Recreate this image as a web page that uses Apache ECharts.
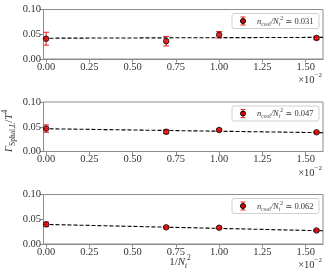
<!DOCTYPE html>
<html><head><meta charset="utf-8">
<script src="https://cdn.jsdelivr.net/npm/echarts@6/dist/echarts.min.js"></script>
<style>html,body{margin:0;padding:0;background:#fff}#c{width:328px;height:279px}</style>
</head><body><div id="c"></div>
<script>
// x values in units of 1e-2 (1/N_t^2)
const xVals = [0, 0.694, 1.0, 1.5625];
const xTicks = [0, 0.25, 0.5, 0.75, 1.0, 1.25, 1.5];
const xTickLabels = ['0.00','0.25','0.50','0.75','1.00','1.25','1.50'];
const yTicks = [0, 0.05, 0.10];
const legendLabels = ['0.031', '0.047', '0.062'];

const mean1 = [0.041, 0.036, 0.049, 0.0425];
const err1  = [0.013, 0.0095, 0.0065, 0.0035];
const mean2 = [0.0463, 0.040, 0.0435, 0.0388];
const err2  = [0.0075, 0.004, 0.002, 0.002];
const mean3 = [0.0397, 0.0336, 0.0329, 0.0274];
const err3  = [0.0045, 0.002, 0.002, 0.002];

const fitX = [-0.015, 1.6];
const fit1 = [0.042, 0.0437];
const fit2 = [0.046, 0.038];
const fit3 = [0.0397, 0.0267];

const means = [mean1, mean2, mean3];
const errs = [err1, err2, err3];
const fits = [fit1, fit2, fit3];

const FAM = '"Liberation Serif", "DejaVu Serif", serif';
const f = (sz, it) => (it ? 'italic ' : '') + sz + 'px ' + FAM;
const tops = [9.5, 102, 194.5];
const H = 49.5;
const axisCol = '#8c8c8c';
const txtCol = '#333';

const grids = [], xAxes = [], yAxes = [], series = [], graphics = [];
for (let i = 0; i < 3; i++) {
  grids.push({left: 43.5, right: 5, top: tops[i], height: H, show: true,
    borderColor: axisCol, borderWidth: 1, backgroundColor: 'transparent', containLabel: false});
  xAxes.push({type: 'value', gridIndex: i, min: -0.015, max: 1.6,
    axisLine: {show: true, onZero: false, lineStyle: {color: axisCol, width: 1}},
    axisTick: {show: true, length: 3.5, lineStyle: {color: axisCol}, customValues: xTicks},
    axisLabel: {customValues: xTicks, fontFamily: FAM, fontSize: 10.5, color: txtCol, margin: 2.5,
      formatter: v => xTickLabels[xTicks.indexOf(Math.round(v*100)/100)] || v.toFixed(2)},
    splitLine: {show: false}});
  yAxes.push({type: 'value', gridIndex: i, min: 0, max: 0.1, interval: 0.05,
    axisLine: {show: true, onZero: false, lineStyle: {color: axisCol, width: 1}},
    axisTick: {show: true, length: 3.5, lineStyle: {color: axisCol}},
    axisLabel: {fontFamily: FAM, fontSize: 10.5, color: txtCol, margin: 2.5, formatter: v => v.toFixed(2)},
    splitLine: {show: false}});
  series.push({type: 'line', xAxisIndex: i, yAxisIndex: i, symbol: 'none', silent: true,
    data: fitX.map((x, k) => [x, fits[i][k]]),
    lineStyle: {color: '#000', width: 1.1, type: [4, 2]}, z: 2});
  series.push({type: 'custom', xAxisIndex: i, yAxisIndex: i, z: 3,
    data: xVals.map((x, k) => [x, means[i][k] - errs[i][k], means[i][k] + errs[i][k]]),
    renderItem: (params, api) => {
      const lo = api.coord([api.value(0), api.value(1)]);
      const hi = api.coord([api.value(0), api.value(2)]);
      const cw = 3;
      const st = {stroke: '#f03030', lineWidth: 1.1};
      return {type: 'group', children: [
        {type: 'line', shape: {x1: lo[0], y1: lo[1], x2: hi[0], y2: hi[1]}, style: st},
        {type: 'line', shape: {x1: lo[0]-cw, y1: lo[1], x2: lo[0]+cw, y2: lo[1]}, style: st},
        {type: 'line', shape: {x1: hi[0]-cw, y1: hi[1], x2: hi[0]+cw, y2: hi[1]}, style: st}
      ]};
    }});
  series.push({type: 'scatter', xAxisIndex: i, yAxisIndex: i, z: 4, symbol: 'circle', symbolSize: 5.5,
    data: xVals.map((x, k) => [x, means[i][k]]),
    itemStyle: {color: '#e00000', borderColor: '#000', borderWidth: 1}});

  const lt = tops[i] + 4;
  graphics.push({type: 'group', x: 232, y: lt, children: [
    {type: 'rect', shape: {x: 0, y: 0, width: 87, height: 15, r: 2},
      style: {fill: 'rgba(255,255,255,0.85)', stroke: '#d0d0d0', lineWidth: 1}},
    {type: 'line', shape: {x1: 11, y1: 3.5, x2: 11, y2: 11.5}, style: {stroke: '#f03030', lineWidth: 1.1}},
    {type: 'line', shape: {x1: 8.5, y1: 3.5, x2: 13.5, y2: 3.5}, style: {stroke: '#f03030', lineWidth: 1.1}},
    {type: 'line', shape: {x1: 8.5, y1: 11.5, x2: 13.5, y2: 11.5}, style: {stroke: '#f03030', lineWidth: 1.1}},
    {type: 'circle', shape: {cx: 11, cy: 7.5, r: 2.5}, style: {fill: '#e00000', stroke: '#000', lineWidth: 1}},
    {type: 'text', x: 25, y: 8, style: {
      text: '{i|n}{sb|cool}{i|/N}{sbi|t}{sp|2}{r| ≃ ' + legendLabels[i] + '}',
      verticalAlign: 'middle', fill: txtCol,
      rich: {
        i: {font: f(8.5, true), lineHeight: 12, verticalAlign: 'middle'},
        r: {font: f(8.5), lineHeight: 12, verticalAlign: 'middle'},
        sb: {font: f(5.5), lineHeight: 12, verticalAlign: 'bottom'},
        sbi: {font: f(5.5, true), lineHeight: 12, verticalAlign: 'bottom'},
        sp: {font: f(5.5), lineHeight: 12, verticalAlign: 'top'}
      }}}
  ]});
  graphics.push({type: 'text', x: 322, y: tops[i] + H + 20, style: {
    text: '{r|×10}{sp|−2}', fill: txtCol, align: 'right', verticalAlign: 'middle',
    rich: {r: {font: f(10.5), lineHeight: 14, verticalAlign: 'bottom'},
           sp: {font: f(7), lineHeight: 14, verticalAlign: 'top'}}}});
}
graphics.push({type: 'text', x: 180, y: 262, style: {
  text: '{r|1/}{i|N}{sb|t}{sp|2}', fill: txtCol, align: 'center', verticalAlign: 'middle',
  rich: {r: {font: f(11), lineHeight: 16, verticalAlign: 'middle'},
         i: {font: f(11, true), lineHeight: 16, verticalAlign: 'middle'},
         sb: {font: f(7.5, true), lineHeight: 16, verticalAlign: 'bottom'},
         sp: {font: f(7.5), lineHeight: 16, verticalAlign: 'top'}}}});
graphics.push({type: 'text', x: 9, y: 131, rotation: Math.PI/2, style: {
  text: '{i|Γ}{sb|Sphal}{sbi|,L}{r|/}{i|T}{sp|4}', fill: txtCol, align: 'center', verticalAlign: 'middle',
  rich: {r: {font: f(11), lineHeight: 16, verticalAlign: 'middle'},
         i: {font: f(11, true), lineHeight: 16, verticalAlign: 'middle'},
         sb: {font: f(7.5), lineHeight: 16, verticalAlign: 'bottom'},
         sbi: {font: f(7.5, true), lineHeight: 16, verticalAlign: 'bottom'},
         sp: {font: f(7.5), lineHeight: 16, verticalAlign: 'top'}}}});

const chart = echarts.init(document.getElementById('c'), null, {renderer: 'canvas'});
chart.setOption({animation: false, grid: grids, xAxis: xAxes, yAxis: yAxes, series: series, graphic: graphics});
</script></body></html>
